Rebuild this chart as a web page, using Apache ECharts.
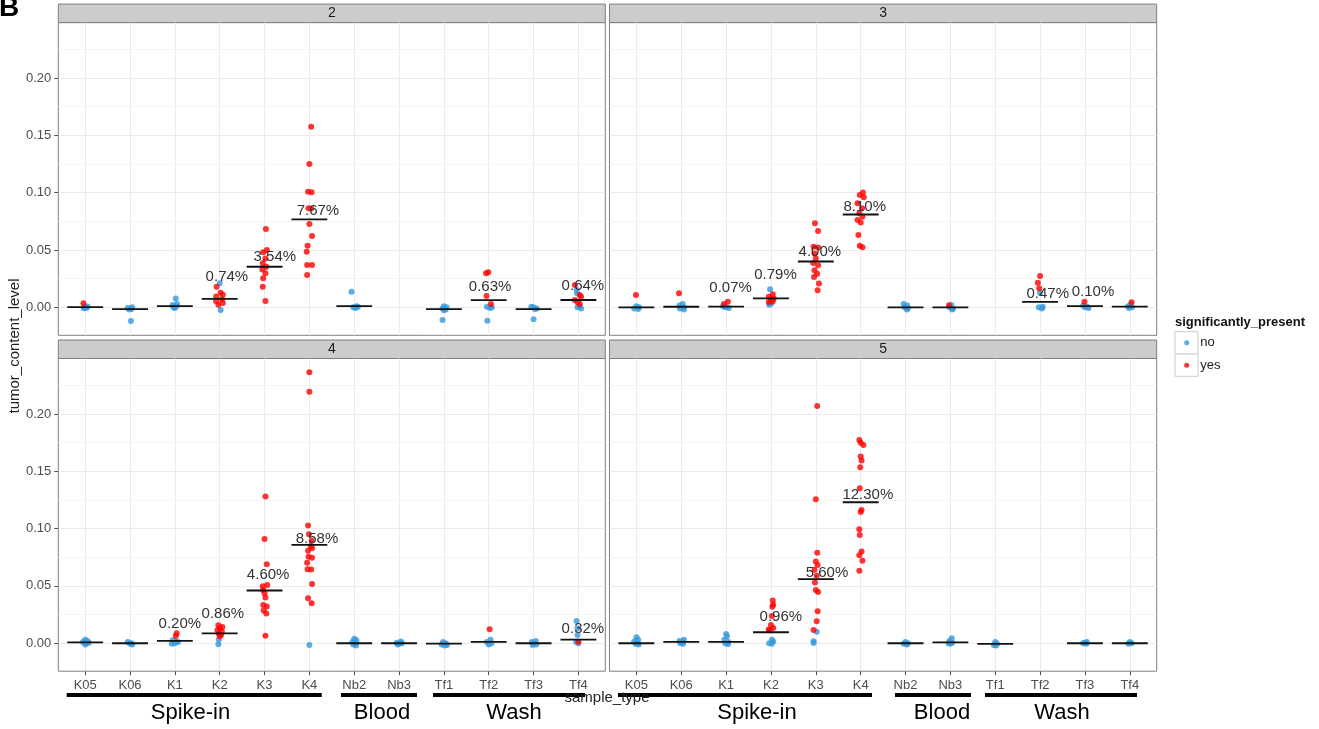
<!DOCTYPE html>
<html>
<head>
<meta charset="utf-8">
<script src="https://cdn.jsdelivr.net/npm/echarts@6/dist/echarts.min.js"></script>
<style>html,body{margin:0;padding:0;background:#fff;}#main{width:1319px;height:729px;}</style>
</head>
<body>
<div id="main"></div>
<script>
// ---------------- data ----------------
const categories = ['K05','K06','K1','K2','K3','K4','Nb2','Nb3','Tf1','Tf2','Tf3','Tf4'];
const panelTitles = ['2','3','4','5'];
const yTicks = [0, 0.05, 0.10, 0.15, 0.20];
const yMinorTicks = [0.025, 0.075, 0.125, 0.175, 0.225];
const yRange = [-0.0244, 0.2484];
const groups = ['Spike-in','Blood','Wash'];
const legendTitle = 'significantly_present';
const legendNames = ['no','yes'];

// points: [categoryIndex, tumor_content_level, horizontal jitter (category units)]
const p2No = [
 [0,0.0000,-0.02],[0,-0.0005,0.03],[0,0.0008,0.05],[0,-0.0008,-0.03],[0,0.0003,0.00],
 [1,-0.0005,-0.05],[1,-0.0015,0.03],[1,-0.0020,-0.02],[1,0.0000,0.05],[1,-0.0120,0.02],
 [2,0.0078,0.02],[2,0.0030,0.05],[2,0.0020,-0.05],[2,0.0010,0.03],[2,0.0000,-0.03],[2,-0.0005,0.00],
 [3,0.0210,0.00],[3,-0.0023,0.02],
 [6,0.0136,-0.06],[6,0.0010,0.05],[6,0.0000,-0.02],[6,0.0005,0.08],[6,-0.0005,0.03],
 [8,0.0010,0.00],[8,0.0000,0.06],[8,-0.0010,-0.03],[8,-0.0018,0.04],[8,-0.0025,0.00],[8,-0.0110,-0.03],
 [9,0.0005,-0.04],[9,-0.0005,0.03],[9,0.0000,0.07],[9,-0.0117,-0.03],
 [10,0.0005,-0.05],[10,0.0000,0.00],[10,-0.0010,0.07],[10,-0.0015,0.03],[10,-0.0105,0.00],
 [11,0.0151,-0.04],[11,0.0122,-0.03],[11,0.0010,0.03],[11,-0.0010,0.06],[11,0.0000,-0.02]
];
const p2Yes = [
 [0,0.0035,-0.04],
 [3,0.0180,-0.07],[3,0.0127,0.02],[3,0.0110,0.07],[3,0.0095,-0.08],[3,0.0071,0.05],[3,0.0052,-0.08],[3,0.0037,0.07],[3,0.0023,-0.03],
 [4,0.0683,0.03],[4,0.0500,0.05],[4,0.0480,-0.03],[4,0.0425,0.02],[4,0.0384,-0.04],[4,0.0355,0.04],[4,0.0330,-0.05],[4,0.0297,0.02],[4,0.0253,-0.03],[4,0.0180,-0.04],[4,0.0055,0.02],
 [5,0.1576,0.04],[5,0.1250,0.00],[5,0.1009,-0.03],[5,0.1003,0.05],[5,0.0864,-0.02],[5,0.0862,0.04],[5,0.0727,0.00],[5,0.0622,0.06],[5,0.0538,-0.04],[5,0.0485,-0.06],[5,0.0369,-0.05],[5,0.0370,0.06],[5,0.0282,-0.05],
 [9,0.0297,-0.06],[9,0.0305,-0.01],[9,0.0098,-0.05],[9,0.0029,0.05],
 [11,0.0195,-0.08],[11,0.0107,0.03],[11,0.0093,0.06],[11,0.0064,-0.08],[11,0.0044,-0.02],[11,0.0030,0.03]
];
const p3No = [
 [0,0.0010,0.00],[0,0.0000,0.06],[0,-0.0010,-0.05],[0,-0.0015,0.04],
 [1,0.0030,0.03],[1,0.0015,-0.04],[1,0.0000,0.05],[1,-0.0010,-0.03],[1,-0.0020,0.06],
 [2,0.0010,-0.07],[2,0.0000,0.00],[2,-0.0005,0.06],[2,0.0005,-0.03],
 [3,0.0157,-0.02],[3,0.0032,0.00],[3,0.0023,-0.04],
 [6,0.0030,-0.04],[6,0.0015,0.04],[6,0.0000,-0.02],[6,-0.0010,0.05],[6,-0.0020,0.03],
 [7,0.0020,0.02],[7,0.0000,-0.02],[7,-0.0010,0.06],[7,-0.0020,0.04],
 [9,0.0127,0.00],[9,0.0000,-0.03],[9,-0.0010,0.04],[9,0.0005,0.06],
 [10,0.0015,-0.04],[10,0.0005,0.05],[10,0.0000,0.00],[10,-0.0005,0.08],
 [11,0.0025,0.02],[11,0.0010,-0.04],[11,0.0000,0.05],[11,-0.0005,-0.02]
];
const p3Yes = [
 [0,0.0107,-0.01],
 [1,0.0122,-0.05],
 [2,0.0049,0.04],[2,0.0029,-0.05],
 [3,0.0115,0.04],[3,0.0093,-0.05],[3,0.0078,0.06],[3,0.0064,0.00],[3,0.0050,0.04],[3,0.0046,-0.05],
 [4,0.0733,-0.02],[4,0.0666,0.05],[4,0.0529,-0.05],[4,0.0523,0.05],[4,0.0470,-0.03],[4,0.0425,0.00],[4,0.0387,-0.06],[4,0.0367,0.05],[4,0.0323,-0.03],[4,0.0294,0.03],[4,0.0265,-0.04],[4,0.0207,0.07],[4,0.0149,0.04],
 [5,0.1001,0.05],[5,0.0981,-0.02],[5,0.0960,0.07],[5,0.0908,-0.07],[5,0.0864,0.03],[5,0.0820,-0.03],[5,0.0791,0.04],[5,0.0762,-0.07],[5,0.0739,0.00],[5,0.0631,-0.05],[5,0.0538,-0.02],[5,0.0524,0.04],
 [7,0.0018,-0.03],
 [9,0.0273,0.00],[9,0.0215,-0.05],[9,0.0166,-0.02],
 [10,0.0049,-0.01],
 [11,0.0044,0.04]
];
const p4No = [
 [0,0.0030,0.00],[0,0.0020,0.05],[0,0.0010,-0.05],[0,0.0000,0.03],[0,-0.0010,0.00],[0,0.0005,0.08],
 [1,0.0010,-0.05],[1,0.0000,0.03],[1,-0.0005,0.00],[1,-0.0010,0.05],
 [2,0.0025,-0.05],[2,0.0010,0.07],[2,0.0000,0.00],[2,-0.0005,-0.07],[2,0.0015,0.03],
 [3,0.0032,-0.02],[3,-0.0008,-0.03],
 [5,-0.0015,0.00],
 [6,0.0040,0.00],[6,0.0025,0.05],[6,0.0010,-0.04],[6,0.0000,0.03],[6,-0.0010,-0.02],[6,-0.0020,0.04],
 [7,0.0015,0.04],[7,0.0005,-0.05],[7,0.0000,0.06],[7,-0.0005,0.00],[7,-0.0010,-0.03],
 [8,0.0010,-0.02],[8,0.0000,0.04],[8,-0.0010,-0.05],[8,-0.0020,0.02],[8,-0.0015,0.07],
 [9,0.0030,0.04],[9,0.0010,-0.04],[9,0.0000,0.06],[9,-0.0010,0.00],
 [10,0.0020,0.05],[10,0.0010,-0.04],[10,0.0000,0.00],[10,-0.0010,0.06],[10,-0.0015,-0.02],
 [11,0.0194,-0.04],[11,0.0130,-0.02],[11,0.0072,-0.02],[11,0.0010,-0.05],[11,0.0000,0.00]
];
const p4Yes = [
 [2,0.0087,0.04],[2,0.0064,0.02],
 [3,0.0157,-0.03],[3,0.0142,0.06],[3,0.0130,0.00],[3,0.0113,-0.05],[3,0.0100,0.05],[3,0.0085,-0.02],[3,0.0072,0.03],[3,0.0060,0.00],
 [4,0.1279,0.02],[4,0.0910,0.00],[4,0.0689,0.05],[4,0.0508,0.06],[4,0.0497,-0.04],[4,0.0465,-0.03],[4,0.0436,0.00],[4,0.0398,0.02],[4,0.0334,-0.03],[4,0.0320,0.05],[4,0.0285,-0.02],[4,0.0260,0.04],[4,0.0066,0.02],
 [5,0.2364,0.00],[5,0.2195,0.00],[5,0.1026,-0.03],[5,0.0950,-0.01],[5,0.0893,0.05],[5,0.0849,0.03],[5,0.0829,0.06],[5,0.0806,-0.03],[5,0.0755,-0.02],[5,0.0745,0.06],[5,0.0703,-0.05],[5,0.0645,-0.04],[5,0.0643,0.04],[5,0.0517,0.06],[5,0.0392,-0.03],[5,0.0349,0.05],
 [9,0.0122,0.02],
 [11,0.0014,0.00]
];
const p5No = [
 [0,0.0052,0.00],[0,0.0030,0.04],[0,0.0015,-0.05],[0,0.0000,0.03],[0,-0.0005,-0.02],[0,-0.0010,0.05],
 [1,0.0030,0.06],[1,0.0020,-0.04],[1,0.0010,0.03],[1,0.0000,-0.02],[1,-0.0005,0.04],
 [2,0.0081,0.00],[2,0.0060,0.02],[2,0.0030,-0.04],[2,0.0010,0.05],[2,0.0000,-0.02],[2,-0.0008,0.04],
 [3,0.0030,0.02],[3,0.0015,0.05],[3,0.0000,-0.04],[3,-0.0005,0.02],
 [4,0.0101,0.02],[4,0.0017,-0.05],[4,0.0003,-0.05],
 [6,0.0010,0.00],[6,0.0000,0.05],[6,-0.0005,-0.04],[6,-0.0010,0.03],
 [7,0.0044,0.03],[7,0.0020,-0.02],[7,0.0005,0.04],[7,0.0000,-0.04],[7,-0.0005,0.00],
 [8,0.0010,0.00],[8,-0.0005,0.04],[8,-0.0015,-0.03],[8,-0.0020,0.02],
 [10,0.0010,0.04],[10,0.0000,-0.04],[10,-0.0005,0.03],[10,0.0005,0.00],
 [11,0.0010,0.00],[11,0.0000,0.04],[11,-0.0005,-0.03]
];
const p5Yes = [
 [3,0.0372,0.04],[3,0.0336,0.05],[3,0.0319,0.03],[3,0.0238,0.02],[3,0.0160,0.00],[3,0.0133,0.05],[3,0.0120,-0.05],[3,0.0113,-0.03],
 [4,0.2070,0.03],[4,0.1256,0.00],[4,0.0790,0.03],[4,0.0712,0.00],[4,0.0683,0.04],[4,0.0640,-0.03],[4,0.0588,0.02],[4,0.0529,-0.02],[4,0.0465,0.00],[4,0.0448,0.05],[4,0.0279,0.04],[4,0.0192,0.02],[4,0.0116,-0.05],
 [5,0.1773,-0.03],[5,0.1748,0.00],[5,0.1730,0.06],[5,0.1628,0.00],[5,0.1595,0.02],[5,0.1535,-0.01],[5,0.1352,-0.02],[5,0.1163,0.02],[5,0.1145,0.00],[5,0.0994,-0.03],[5,0.0945,-0.02],[5,0.0800,0.02],[5,0.0767,-0.03],[5,0.0720,0.04],[5,0.0633,-0.03]
];

// summary level per category (null = no samples)
const p2Levels = [0.0002,-0.0015,0.0011,0.0074,0.0354,0.0767,0.0011,null,-0.0015,0.0063,-0.0015,0.0064];
const p3Levels = [0.0000,0.0005,0.0007,0.0079,0.0400,0.0810,0.0000,0.0000,null,0.0047,0.0010,0.0007];
const p4Levels = [0.0007,0.0000,0.0020,0.0086,0.0460,0.0858,0.0000,0.0000,-0.0003,0.0012,0.0000,0.0032];
const p5Levels = [0.0000,0.0012,0.0012,0.0096,0.0560,0.1230,0.0000,0.0008,-0.0005,null,0.0000,0.0000];

// percentage labels: [categoryIndex, text, y level, x jitter]
const p2Labels = [[3,'0.74%',0.0262,0.16],[4,'3.54%',0.0442,0.23],[5,'7.67%',0.0843,0.19],[9,'0.63%',0.0175,0.03],[11,'0.64%',0.0189,0.10]];
const p3Labels = [[2,'0.07%',0.0166,0.10],[3,'0.79%',0.0282,0.10],[4,'4.00%',0.0485,0.09],[5,'8.10%',0.0873,0.09],[9,'0.47%',0.0116,0.17],[10,'0.10%',0.0131,0.18]];
const p4Labels = [[2,'0.20%',0.0168,0.11],[3,'0.86%',0.0253,0.07],[4,'4.60%',0.0596,0.08],[5,'8.58%',0.0907,0.17],[11,'0.32%',0.0125,0.10]];
const p5Labels = [[3,'0.96%',0.0227,0.22],[4,'5.60%',0.0610,0.25],[5,'12.30%',0.1293,0.16]];

// ---------------- layout / style ----------------
const FONT = '"Liberation Sans", Arial, sans-serif';
const BLUE = '#3498db', RED = '#ff0000';
const panels = [
  {title: panelTitles[0], no: p2No, yes: p2Yes, levels: p2Levels, labels: p2Labels},
  {title: panelTitles[1], no: p3No, yes: p3Yes, levels: p3Levels, labels: p3Labels},
  {title: panelTitles[2], no: p4No, yes: p4Yes, levels: p4Levels, labels: p4Labels},
  {title: panelTitles[3], no: p5No, yes: p5Yes, levels: p5Levels, labels: p5Labels}
];
const boxes = [
  {left: 58.3, top: 22.6, width: 547, height: 312.7},
  {left: 609.5, top: 22.6, width: 547.2, height: 312.7},
  {left: 58.3, top: 358.5, width: 547, height: 312.7},
  {left: 609.5, top: 358.5, width: 547.2, height: 312.7}
];
const catIdx = categories.map((c, i) => i);

const grid = [], xAxis = [], yAxis = [], series = [], graphic = [];
panels.forEach((p, i) => {
  const b = boxes[i];
  const isBottom = i >= 2, isLeft = i % 2 === 0;
  grid.push({left: b.left, top: b.top, width: b.width, height: b.height, show: true,
    borderColor: '#7f7f7f', borderWidth: 1, backgroundColor: '#fff', containLabel: false});
  xAxis.push({type: 'value', gridIndex: i, min: -0.6, max: 11.6, position: 'bottom',
    axisLine: {show: false, onZero: false},
    axisTick: {show: isBottom, length: 4, lineStyle: {color: '#4d4d4d'}, customValues: catIdx},
    axisLabel: {show: isBottom, customValues: catIdx, margin: 8, color: '#4d4d4d',
      fontFamily: FONT, fontSize: 13, formatter: v => categories[Math.round(v)]},
    splitLine: {show: true, lineStyle: {color: '#ebebeb', width: 1}}
  });
  yAxis.push({type: 'value', gridIndex: i, min: yRange[0], max: yRange[1], position: 'left',
    axisLine: {show: false, onZero: false},
    axisTick: {show: isLeft, length: 4, lineStyle: {color: '#4d4d4d'}, customValues: yTicks},
    axisLabel: {show: isLeft, customValues: yTicks, margin: 7, color: '#4d4d4d',
      fontFamily: FONT, fontSize: 13, formatter: v => v.toFixed(2)},
    splitLine: {show: true, lineStyle: {color: '#ebebeb', width: 1}}
  });
  yAxis.push({type: 'value', gridIndex: i, min: yRange[0], max: yRange[1], position: 'right',
    axisLine: {show: false, onZero: false},
    axisTick: {show: false, customValues: yMinorTicks},
    axisLabel: {show: false, customValues: yMinorTicks},
    splitLine: {show: true, lineStyle: {color: '#f5f5f5', width: 1}}
  });
  const yi = i * 2;
  series.push({type: 'scatter', name: legendNames[0], xAxisIndex: i, yAxisIndex: yi,
    symbol: 'circle', symbolSize: 6, itemStyle: {color: BLUE}, silent: true,
    data: p.no.map(d => [d[0] + d[2], d[1]])});
  series.push({type: 'scatter', name: legendNames[1], xAxisIndex: i, yAxisIndex: yi,
    symbol: 'circle', symbolSize: 6, itemStyle: {color: RED}, silent: true,
    data: p.yes.map(d => [d[0] + d[2], d[1]])});
  const lv = [];
  p.levels.forEach((v, k) => { if (v !== null) lv.push([k, v]); });
  series.push({type: 'custom', name: 'level' + i, xAxisIndex: i, yAxisIndex: yi, silent: true,
    data: lv, z: 3,
    renderItem: (params, api) => {
      const x = api.value(0), y = api.value(1);
      const a = api.coord([x - 0.4, y]), c = api.coord([x + 0.4, y]);
      return {type: 'line', shape: {x1: a[0], y1: a[1], x2: c[0], y2: c[1]},
        style: {stroke: '#111', lineWidth: 1.8}};
    }});
  const labs = p.labels;
  series.push({type: 'custom', name: 'pct' + i, xAxisIndex: i, yAxisIndex: yi, silent: true,
    data: labs.map(l => [l[0] + l[3], l[2]]), z: 4,
    renderItem: (params, api) => {
      const pt = api.coord([api.value(0), api.value(1)]);
      return {type: 'text', x: pt[0], y: pt[1],
        style: {text: labs[params.dataIndex][1], fill: '#333', font: '15px ' + FONT,
          align: 'center', verticalAlign: 'middle'}};
    }});
  // facet strip
  graphic.push({type: 'rect', shape: {x: b.left, y: b.top - 18.5, width: b.width, height: 18.5},
    style: {fill: '#cccccc', stroke: '#7f7f7f', lineWidth: 1}, silent: true});
  graphic.push({type: 'text', x: b.left + b.width / 2, y: b.top - 9.2,
    style: {text: p.title, fill: '#1a1a1a', font: '14px ' + FONT, align: 'center', verticalAlign: 'middle'}, silent: true});
});

// group brackets under x axis
const brackets = [
  [66.7, 321.7, 190.5, 0], [341, 417, 382, 1], [433, 585, 514, 2],
  [618, 872, 757, 0], [895, 971, 942, 1], [985, 1137, 1062, 2]
];
brackets.forEach(bk => {
  graphic.push({type: 'line', shape: {x1: bk[0], y1: 695, x2: bk[1], y2: 695},
    style: {stroke: '#000', lineWidth: 4}, silent: true});
  graphic.push({type: 'text', x: bk[2], y: 713,
    style: {text: groups[bk[3]], fill: '#000', font: '22px ' + FONT, align: 'center', verticalAlign: 'middle'}, silent: true});
});
// axis titles
graphic.push({type: 'text', x: 607, y: 698,
  style: {text: 'sample_type', fill: '#222', font: '15px ' + FONT, align: 'center', verticalAlign: 'middle'}, silent: true});
graphic.push({type: 'text', x: 15, y: 346, rotation: Math.PI / 2,
  style: {text: 'tumor_content_level', fill: '#222', font: '15px ' + FONT, align: 'center', verticalAlign: 'middle'}, silent: true});
// panel letter
graphic.push({type: 'text', x: -1, y: 8,
  style: {text: 'B', fill: '#000', font: 'bold 28px ' + FONT, align: 'left', verticalAlign: 'middle'}, silent: true});
// legend title and key boxes
graphic.push({type: 'text', x: 1175, y: 322,
  style: {text: legendTitle, fill: '#111', font: 'bold 13px ' + FONT, align: 'left', verticalAlign: 'middle'}, silent: true});
graphic.push({type: 'rect', shape: {x: 1175, y: 331.7, width: 23, height: 22.3},
  style: {fill: '#fff', stroke: '#cccccc', lineWidth: 1}, silent: true, z: -1});
graphic.push({type: 'rect', shape: {x: 1175, y: 354, width: 23, height: 22.3},
  style: {fill: '#fff', stroke: '#cccccc', lineWidth: 1}, silent: true, z: -1});

const option = {
  animation: false,
  backgroundColor: '#fff',
  grid, xAxis, yAxis, series, graphic,
  legend: {
    data: legendNames, orient: 'vertical', left: 1184.2, top: 331.7, padding: 0,
    itemWidth: 5, itemHeight: 5, itemGap: 0, icon: 'circle', selectedMode: false,
    textStyle: {fontFamily: FONT, fontSize: 13, color: '#1a1a1a', lineHeight: 22.3, padding: [0, 0, 0, 6]}
  }
};
const chart = echarts.init(document.getElementById('main'));
chart.setOption(option);
</script>
</body>
</html>
